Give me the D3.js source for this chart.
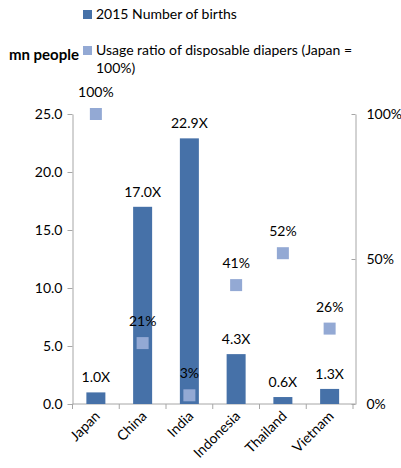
<!DOCTYPE html>
<html>
<head>
<meta charset="utf-8">
<script src="https://cdn.jsdelivr.net/npm/d3@7"></script>
<style>
  html, body { margin: 0; padding: 0; background: #fff; }
  svg { display: block; }
  text { font-family: Lato, "Open Sans", sans-serif; fill: #000; }
</style>
</head>
<body>
<svg id="chart" width="401" height="468"></svg>
<script>
// Categories and series
const countries = ["Japan", "China", "India", "Indonesia", "Thailand", "Vietnam"];
const births = [1.0, 17.0, 22.9, 4.3, 0.6, 1.3];          // mn people, 2015
const birthLabels = ["1.0X", "17.0X", "22.9X", "4.3X", "0.6X", "1.3X"];
const usageRatio = [100, 21, 3, 41, 52, 26];               // % of Japan
const leftTicks = [0, 5, 10, 15, 20, 25];
const rightTicks = [0, 50, 100];

const barColor = "#4671a8";
const markerColor = "#93a9d4";
const axisColor = "#a6a6a6";
const fs = 14;

const svg = d3.select("#chart");
const m = { left: 72.5, right: 355.5, top: 114, bottom: 404 };

const x = d3.scaleBand().domain(countries).range([m.left, m.right - 2.5]).paddingInner(0).paddingOuter(0);
const yL = d3.scaleLinear().domain([0, 25]).range([m.bottom, m.top]);
const yR = d3.scaleLinear().domain([0, 100]).range([m.bottom, m.top]);

// Legend
const legend = svg.append("g");
legend.append("rect").attr("x", 83).attr("y", 10).attr("width", 9).attr("height", 9).attr("fill", barColor);
legend.append("text").attr("x", 96).attr("y", 19).attr("font-size", fs).text("2015 Number of births");
legend.append("rect").attr("x", 83).attr("y", 46).attr("width", 9).attr("height", 9).attr("fill", markerColor);
legend.append("text").attr("x", 96).attr("y", 55).attr("font-size", fs)
  .text("Usage ratio of disposable diapers (Japan =");
legend.append("text").attr("x", 96).attr("y", 73).attr("font-size", fs).text("100%)");
svg.append("text").attr("x", 79).attr("y", 60).attr("text-anchor", "end")
  .attr("font-size", 15).attr("font-weight", "bold").text("mn people");

// Left axis
const gL = svg.append("g").attr("transform", `translate(${m.left},0)`)
  .call(d3.axisLeft(yL).tickValues(leftTicks).tickFormat(d3.format(".1f")).tickSize(5).tickSizeOuter(0).tickPadding(5));
// Right axis (ticks point inward)
const gR = svg.append("g").attr("transform", `translate(${m.right},0)`)
  .call(d3.axisRight(yR).tickValues(rightTicks).tickFormat(d => d + "%").tickSize(0).tickSizeOuter(0).tickPadding(11));
gR.selectAll(".tick").append("line").attr("x1", -4).attr("x2", 0).attr("stroke", axisColor);

// Bottom axis with tick marks at category boundaries
const gB = svg.append("g").attr("transform", `translate(0,${m.bottom})`);
gB.append("line").attr("x1", m.left).attr("x2", m.right).attr("stroke", axisColor);
const bounds = countries.map(c => x(c)).concat([x(countries[countries.length - 1]) + x.bandwidth()]);
gB.selectAll("line.b").data(bounds).join("line").attr("class", "b")
  .attr("x1", d => d).attr("x2", d => d).attr("y1", 0).attr("y2", 5).attr("stroke", axisColor);
gB.selectAll("text.cat").data(countries).join("text").attr("class", "cat")
  .attr("font-size", fs).attr("text-anchor", "end")
  .attr("transform", d => `translate(${x(d) + x.bandwidth() / 2 + 5},${13}) rotate(-45)`)
  .text(d => d);

[gL, gR].forEach(g => {
  g.select(".domain").attr("stroke", axisColor);
  g.selectAll(".tick line").attr("stroke", axisColor);
  g.selectAll(".tick text").attr("font-size", fs).attr("fill", "#000")
    .style("font-family", "Lato, 'Open Sans', sans-serif");
});

// Bars
const barW = 19;
svg.append("g").selectAll("rect").data(countries).join("rect")
  .attr("x", (d) => x(d) + x.bandwidth() / 2 - barW / 2)
  .attr("width", barW)
  .attr("y", (d, i) => yL(births[i]))
  .attr("height", (d, i) => yL(0) - yL(births[i]))
  .attr("fill", barColor);

svg.append("g").selectAll("text").data(countries).join("text")
  .attr("x", d => x(d) + x.bandwidth() / 2)
  .attr("y", (d, i) => yL(births[i]) - 10)
  .attr("text-anchor", "middle").attr("font-size", fs)
  .text((d, i) => birthLabels[i]);

// Usage ratio markers
const ms = 12;
svg.append("g").selectAll("rect").data(countries).join("rect")
  .attr("x", d => x(d) + x.bandwidth() / 2 - ms / 2)
  .attr("y", (d, i) => yR(usageRatio[i]) - ms / 2)
  .attr("width", ms).attr("height", ms)
  .attr("fill", markerColor);

svg.append("g").selectAll("text").data(countries).join("text")
  .attr("x", d => x(d) + x.bandwidth() / 2)
  .attr("y", (d, i) => yR(usageRatio[i]) - 17)
  .attr("text-anchor", "middle").attr("font-size", fs)
  .text((d, i) => usageRatio[i] + "%");
</script>
</body>
</html>
